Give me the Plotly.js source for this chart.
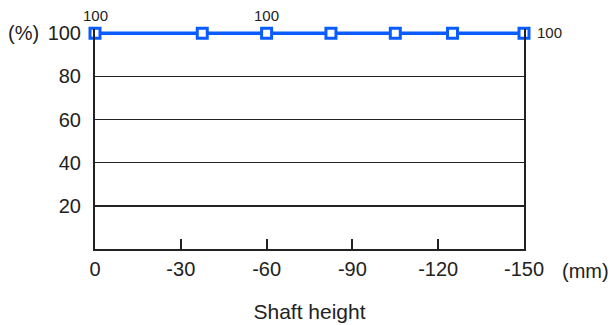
<!DOCTYPE html>
<html>
<head>
<meta charset="utf-8">
<script src="https://cdn.plot.ly/plotly-3.0.1.min.js"></script>
<style>html,body{margin:0;padding:0;background:#fff;}#chart{width:612px;height:325px;}</style>
</head>
<body>
<div id="chart"></div>
<script>
const shaftHeight = [0, -37.5, -60, -82.5, -105, -125, -150];
const ratio = [100, 100, 100, 100, 100, 100, 100];
const pointLabels = ["100", "", "100", "", "", "", "100"];
const labelSide = ["top", "", "top", "", "", "", "right"];
const xTicks = [0, -30, -60, -90, -120, -150];
const yTicks = [20, 40, 60, 80, 100];

const fontFam = 'Arial, "Liberation Sans", sans-serif';
const ink = '#222';
const blue = '#0a5cff';
const trace = {
  x: shaftHeight, y: ratio, mode: 'lines+markers', type: 'scatter',
  line: {color: blue, width: 3.5},
  marker: {symbol: 'square', size: 10, color: '#ffffff', line: {color: blue, width: 3}},
  cliponaxis: false, hoverinfo: 'none'
};
const labelAnns = [];
pointLabels.forEach((t, i) => {
  if (!t) return;
  const right = labelSide[i] === 'right';
  labelAnns.push({
    text: t, xref: 'x', yref: 'y', x: shaftHeight[i], y: ratio[i], showarrow: false,
    xanchor: right ? 'left' : 'center', yanchor: 'middle',
    xshift: right ? 11 : 0, yshift: right ? 1 : 18,
    font: {size: 15, color: ink, family: fontFam}
  });
});
const layout = {
  width: 612, height: 325,
  margin: {l: 95, r: 88, t: 28.7, b: 76},
  paper_bgcolor: '#fff', plot_bgcolor: '#fff',
  showlegend: false,
  font: {family: fontFam, size: 20, color: ink},
  xaxis: {
    range: [0, -150], tickvals: xTicks, ticktext: xTicks.map(String),
    ticks: 'inside', ticklen: 10, tickwidth: 2, tickcolor: ink,
    showline: true, linecolor: ink, linewidth: 2,
    showgrid: false, zeroline: false,
    ticklabelstandoff: 1,
    tickfont: {size: 20},
    title: {text: 'Shaft height', font: {size: 21, color: ink}, standoff: 25}
  },
  yaxis: {
    range: [0, 102], tickvals: yTicks, ticktext: yTicks.map(String),
    ticks: '', showline: true, mirror: true, linecolor: ink, linewidth: 2,
    showgrid: true, gridcolor: ink, gridwidth: 1.5, zeroline: false,
    tickfont: {size: 20},
    ticklabelstandoff: 8
  },
  annotations: labelAnns.concat([
    {text: '(%)', xref: 'paper', yref: 'y', x: 0, y: 100, xanchor: 'right', yanchor: 'middle', xshift: -54, showarrow: false, font: {size: 20, color: ink}},
    {text: '(mm)', xref: 'paper', yref: 'paper', x: 1, y: 0, xanchor: 'left', yanchor: 'middle', xshift: 36, yshift: -22, showarrow: false, font: {size: 20, color: ink}}
  ])
};
Plotly.newPlot('chart', [trace], layout, {staticPlot: true, displayModeBar: false});
</script>
</body>
</html>
